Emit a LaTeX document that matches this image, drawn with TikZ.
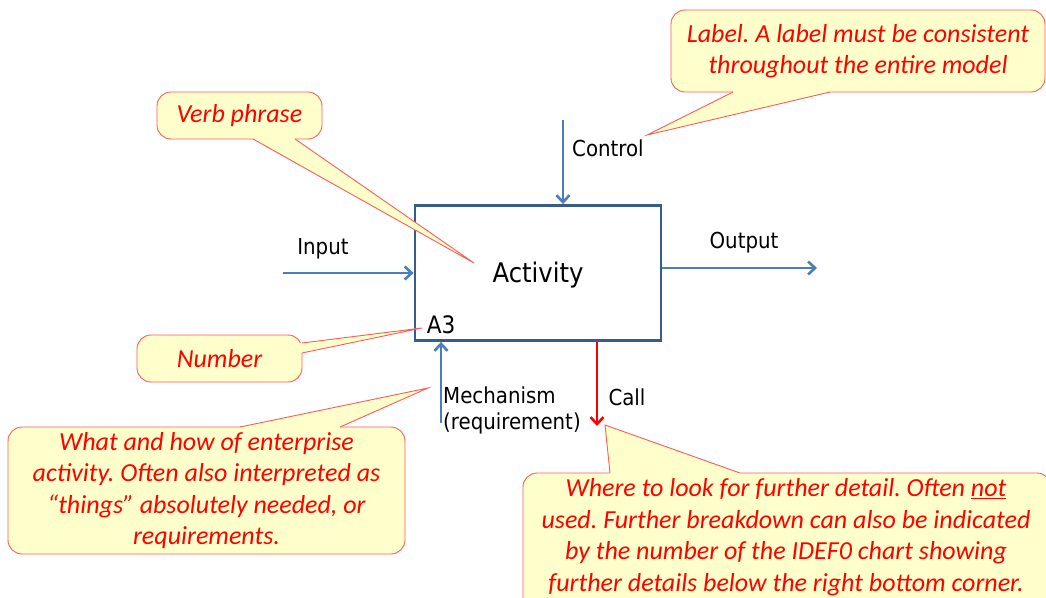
\documentclass[tikz,border=0pt]{standalone}
\usepackage{fontspec}
\setmainfont{Carlito}
\newfontfamily\labelfont{DejaVu Sans Condensed}
\usetikzlibrary{arrows.meta}
\frenchspacing
\definecolor{boxblue}{HTML}{385D8A}
\definecolor{flowblue}{HTML}{4A7EBB}
\definecolor{notefill}{HTML}{FFFFCC}
\definecolor{noteline}{HTML}{FF5A5A}
\definecolor{notetext}{HTML}{FF0000}
\tikzset{
  flow/.style={draw=flowblue, line width=2.6pt, -{Straight Barb[length=7pt,width=13pt,line width=2.6pt]}},
  callflow/.style={draw=notetext, line width=2.6pt, -{Straight Barb[length=7pt,width=13pt,line width=2.6pt]}},
  activitybox/.style={draw=boxblue, line width=2.8pt, fill=white, minimum width=246pt, minimum height=135pt, inner sep=0pt},
  tag/.style={font=\labelfont\fontsize{22}{26}\selectfont, text=black, inner sep=0pt},
  notebox/.style={draw=noteline, line width=0.9pt, fill=notefill, rounded corners=14pt, inner sep=0pt,
    text=notetext, align=center, font=\itshape\fontsize{26}{31.5}\selectfont},
  notetxt/.style={text=notetext, align=center, inner sep=0pt, font=\itshape\fontsize{26}{31.5}\selectfont},
  pointerfill/.style={fill=notefill},
  pointerline/.style={draw=noteline, line width=0.9pt, line join=miter},
}
\begin{document}
\begin{tikzpicture}[x=1pt,y=-1pt]
\useasboundingbox (0,0) rectangle (1046,597);

% central activity box
\node[activitybox] (act) at (538,273) {};
\node[font=\labelfont\fontsize{27}{32}\selectfont] (actname) at (538,275) {Activity};
\node[font=\labelfont\fontsize{24}{28}\selectfont, inner sep=0pt] (num) at (441,325) {A3};

% ICOM arrows
\coordinate (ctrlstart) at (563,120);
\coordinate (instart) at (283,273);
\coordinate (outend) at (817,268);
\coordinate (mechstart) at (441,423);
\coordinate (callend) at (597,426);
\draw[flow] (ctrlstart) -- (ctrlstart |- act.north);
\draw[flow] (instart) -- (instart -| act.west);
\draw[flow] (outend -| act.east) -- (outend);
\draw[flow] (mechstart) -- (mechstart |- act.south);
\draw[callflow] (callend |- act.south) -- (callend);

\node[tag, anchor=west] (ctrl) at (572,148) {Control};
\node[tag] (inp) at (323,249) {Input};
\node[tag] (outp) at (744,243) {Output};
\node[tag, anchor=west, align=left] (mech) at (443,410) {Mechanism\\(requirement)};
\node[tag] (call) at (627,397) {Call};

% callout: label
\node[notebox, minimum width=374pt, minimum height=82pt] (labnote) at (858,51)
  {Label. A label must be consistent\\throughout the entire model};
\coordinate (labtip) at (647,135);
\fill[pointerfill] (733,88) -- (733,92) -- (labtip) -- (830,92) -- (830,88) -- cycle;
\draw[pointerline] (733,92) -- (labtip) -- (830,92);

% callout: verb phrase
\node[notebox, minimum width=165pt, minimum height=47pt] (verbnote) at (239.5,115.5) {Verb phrase};
\coordinate (verbtip) at (474,263);
\fill[pointerfill] (253,135) -- (253,139) -- (verbtip) -- (295,139) -- (295,135) -- cycle;
\draw[pointerline] (253,139) -- (verbtip) -- (295,139);

% callout: number
\node[notebox, minimum width=165pt, minimum height=47pt] (numnote) at (219.5,358.5) {Number};
\coordinate (numtip) at (422,328);
\fill[pointerfill] (298,343) -- (302,343) -- (numtip) -- (302,353) -- (298,353) -- cycle;
\draw[pointerline] (302,343) -- (numtip) -- (302,353);

% callout: mechanism
\node[notebox, minimum width=397pt, minimum height=127pt] (mechnote) at (206.5,490.5)
  {What and how of enterprise\\activity. Often also interpreted as\\``things'' absolutely needed, or\\requirements.};
\coordinate (mechtip) at (428,388);
\fill[pointerfill] (240,431) -- (240,427) -- (mechtip) -- (340,427) -- (340,431) -- cycle;
\draw[pointerline] (240,427) -- (mechtip) -- (340,427);

% callout: call
\node[notebox, minimum width=528pt, minimum height=150pt] (callnote) at (787,548) {};
\coordinate (calltip) at (605,425);
\fill[pointerfill] (610,477) -- (610,473) -- (calltip) -- (740,473) -- (740,477) -- cycle;
\draw[pointerline] (610,473) -- (calltip) -- (740,473);
\node[notetxt] (calltext) at (786,537)
  {Where to look for further detail. Often \underline{not}\\used. Further breakdown can also be indicated\\by the number of the IDEF0 chart showing\\further details below the right bottom corner.};
\end{tikzpicture}
\end{document}
